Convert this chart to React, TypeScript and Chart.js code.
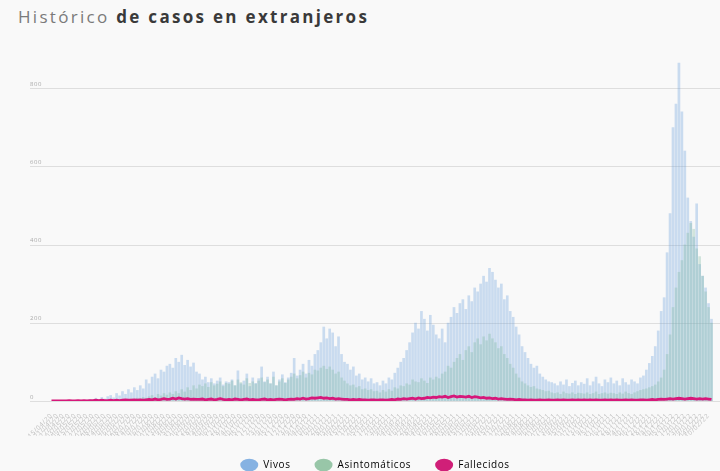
import React, { useEffect, useRef } from "react";
import { Chart, registerables } from "chart.js";

Chart.register(...registerables);

// Dates: one category every 3 days starting 15/04/2020
const START_DATE = "2020-04-15";
const STEP_DAYS = 3;

const vivos: number[] = [
  0, 0, 0, 0, 0, 1, 0, 2, 0, 1,
  2, 0, 3, 5, 2, 8, 4, 10, 6, 12,
  15, 9, 20, 14, 25, 18, 30, 22, 35, 28,
  40, 32, 55, 45, 62, 70, 58, 80, 75, 90,
  95, 85, 110, 100, 118, 92, 105, 88, 98, 75,
  70, 55, 62, 48, 58, 45, 52, 60, 42, 50,
  48, 55, 40, 78, 45, 52, 70, 38, 60, 46,
  58, 88, 50, 62, 45, 75, 40, 55, 68, 48,
  60, 72, 110, 65, 80, 95, 70, 105, 90, 120,
  130, 150, 190, 160, 185, 175, 140, 165, 120, 100,
  95, 80, 88, 65, 70, 55, 60, 50, 58, 45,
  48, 40, 52, 45, 60, 55, 72, 85, 100, 110,
  130, 150, 175, 200, 185, 230, 210, 180, 220, 195,
  170, 160, 185, 150, 200, 215, 240, 225, 250, 260,
  235, 270, 255, 290, 280, 300, 320, 305, 340, 330,
  310, 290, 300, 260, 270, 230, 215, 190, 170, 140,
  125, 110, 95, 85, 90, 70, 62, 55, 50, 48,
  45, 40, 50, 42, 55, 38, 46, 52, 40, 48,
  44, 58, 40, 50, 62, 45, 38, 55, 48, 60,
  45, 52, 40, 58, 48, 42, 55, 50, 45, 60,
  65, 80, 97, 115, 140, 180, 230, 265, 380, 480,
  700, 760, 865, 740, 640, 520, 460, 420, 505, 350,
  320, 290, 250, 210,
];

const asintomaticos: number[] = [
  0, 0, 0, 0, 0, 0, 0, 0, 0, 0,
  0, 0, 0, 1, 0, 2, 0, 1, 2, 0,
  2, 3, 1, 4, 2, 5, 3, 6, 4, 8,
  6, 10, 8, 12, 15, 10, 18, 14, 20, 16,
  22, 18, 25, 20, 30, 24, 35, 28, 40, 32,
  42, 38, 45, 36, 48, 40, 44, 50, 38, 46,
  44, 52, 40, 55, 48, 42, 58, 46, 50, 44,
  52, 60, 48, 55, 45, 62, 40, 50, 58, 46,
  55, 62, 70, 58, 66, 75, 60, 72, 68, 80,
  78, 85, 90, 82, 88, 80, 70, 75, 60, 52,
  45, 40, 42, 35, 38, 30, 32, 28, 30, 25,
  26, 22, 28, 24, 30, 26, 35, 32, 40, 38,
  45, 42, 55, 50, 48, 58, 52, 46, 60, 55,
  62, 58, 70, 75, 90, 85, 100, 110, 120, 105,
  130, 140, 125, 150, 160, 145, 165, 155, 172, 160,
  150, 135, 140, 120, 110, 95, 85, 70, 60, 50,
  45, 40, 36, 38, 32, 30, 28, 25, 26, 22,
  20, 22, 18, 24, 20, 19, 22, 18, 21, 20,
  19, 22, 18, 20, 24, 18, 20, 22, 19, 21,
  20, 18, 22, 19, 24, 20, 18, 22, 25, 28,
  30, 32, 35, 38, 42, 50, 60, 80, 120, 170,
  240, 290, 330, 360, 400, 430, 455, 440, 390, 370,
  320, 280, 240, 200,
];

const fallecidos: number[] = [
  0, 0, 0, 0, 0, 0, 1, 0, 0, 1,
  0, 1, 0, 1, 1, 2, 1, 2, 1, 1,
  2, 1, 2, 1, 2, 3, 2, 2, 3, 2,
  3, 2, 3, 4, 3, 5, 3, 4, 6, 4,
  5, 7, 5, 8, 6, 5, 6, 4, 5, 4,
  4, 5, 3, 4, 5, 3, 4, 6, 4, 3,
  4, 3, 5, 4, 3, 4, 5, 3, 4, 3,
  3, 4, 5, 3, 4, 3, 4, 5, 4, 3,
  4, 5, 4, 6, 5, 7, 5, 6, 8, 7,
  8, 9, 7, 8, 6, 7, 5, 6, 5, 4,
  4, 3, 4, 3, 4, 3, 3, 2, 3, 3,
  2, 3, 3, 2, 3, 4, 3, 5, 4, 6,
  5, 6, 7, 5, 8, 6, 7, 9, 8, 10,
  9, 11, 10, 12, 9, 11, 13, 10, 12, 11,
  10, 12, 9, 11, 10, 8, 9, 7, 8, 6,
  7, 5, 6, 5, 4, 5, 4, 3, 4, 3,
  3, 2, 3, 2, 2, 3, 2, 2, 3, 2,
  2, 3, 2, 3, 2, 2, 3, 2, 3, 2,
  3, 2, 3, 2, 3, 2, 2, 3, 2, 3,
  2, 3, 2, 2, 3, 2, 3, 2, 2, 3,
  3, 2, 3, 4, 3, 4, 5, 4, 5, 6,
  5, 6, 7, 6, 5, 6, 7, 6, 5, 6,
  5, 6, 5, 4,
];

const yTickValues: number[] = [0, 200, 400, 600, 800];

const pad = (n: number) => (n < 10 ? "0" + n : "" + n);
const labels: string[] = vivos.map((_, i) => {
  const d = new Date(START_DATE + "T00:00:00Z");
  d.setUTCDate(d.getUTCDate() + i * STEP_DAYS);
  return `${pad(d.getUTCDate())}/${pad(d.getUTCMonth() + 1)}/${String(d.getUTCFullYear()).slice(2)}`;
});

const GRID_LEFT = 30;
const CANVAS_H = 480;
const LEGEND_PAD = 24;

const spacingPlugin = {
  id: "spacing",
  beforeUpdate(chart: any) {
    chart.ctx.letterSpacing = "0.6px";
  },
  beforeDraw(chart: any) {
    chart.ctx.letterSpacing = "0.6px";
  },
};

const gridPlugin = {
  id: "customGrid",
  beforeDatasetsDraw(chart: any) {
    const y = chart.scales.y;
    const ctx = chart.ctx;
    ctx.save();
    ctx.strokeStyle = "#dedede";
    ctx.lineWidth = 1;
    y.ticks.forEach((t: any) => {
      const py = Math.round(y.getPixelForValue(t.value)) + 0.5;
      ctx.beginPath();
      ctx.moveTo(GRID_LEFT, py);
      ctx.lineTo(chart.width, py);
      ctx.stroke();
    });
    ctx.restore();
  },
};

const legendColors = ["#86b2e2", "#98c6a8", "#d01f78"];

export default function App() {
  const ref = useRef<HTMLCanvasElement | null>(null);
  useEffect(() => {
    if (!ref.current) return;
    const chart = new Chart(ref.current, {
      type: "bar",
      data: {
        labels,
        datasets: [
          {
            type: "bar",
            label: "Vivos",
            data: vivos,
            backgroundColor: "rgba(111,163,221,0.35)",
            borderWidth: 0,
            barPercentage: 0.9,
            categoryPercentage: 1,
            grouped: false,
            order: 3,
          } as any,
          {
            type: "bar",
            label: "Asintomáticos",
            data: asintomaticos,
            backgroundColor: "rgba(125,185,160,0.32)",
            borderWidth: 0,
            barPercentage: 0.9,
            categoryPercentage: 1,
            grouped: false,
            order: 2,
          } as any,
          {
            type: "line",
            label: "Fallecidos",
            data: fallecidos,
            borderColor: "#d6177a",
            backgroundColor: "#d6177a",
            borderWidth: 2.8,
            pointRadius: 0,
            tension: 0,
            order: 1,
          } as any,
        ],
      },
      options: {
        responsive: false,
        animation: false,
        devicePixelRatio: 1,
        layout: { padding: { left: GRID_LEFT, right: 0, top: 49, bottom: 0 } },
        plugins: {
          title: { display: false },
          tooltip: { enabled: false },
          legend: {
            position: "bottom",
            labels: {
              usePointStyle: true,
              pointStyle: "circle",
              pointStyleWidth: 18,
              boxHeight: 9,
              padding: LEGEND_PAD,
              color: "#9a9a9a",
              font: { family: "'Open Sans', sans-serif", size: 10 },
              generateLabels: (c: any) =>
                c.data.datasets.map((ds: any, i: number) => ({
                  text: ds.label,
                  fillStyle: legendColors[i],
                  strokeStyle: legendColors[i],
                  lineWidth: 0,
                  pointStyle: "circle",
                  hidden: false,
                  datasetIndex: i,
                })),
            },
          },
        },
        scales: {
          x: {
            grid: { display: false },
            border: { display: false },
            afterFit: (s: any) => {
              s.height = CANVAS_H - (10 + LEGEND_PAD + 10) - 401;
            },
            ticks: {
              autoSkip: false,
              minRotation: 45,
              maxRotation: 45,
              color: "#c2c2c2",
              font: { family: "'Open Sans', sans-serif", size: 6.5 },
              padding: 3,
              callback: function (this: any, _v: any, i: number) {
                return i % 2 === 0 ? labels[i] : "";
              },
            },
          },
          y: {
            min: 0,
            max: 900,
            border: { display: false },
            grid: { display: false },
            afterBuildTicks: (s: any) => {
              s.ticks = yTickValues.map((v) => ({ value: v }));
            },
            afterFit: (s: any) => {
              s.width = 20;
            },
            ticks: {
              crossAlign: "far",
              labelOffset: -4,
              color: "#aaaaaa",
              font: { family: "'Open Sans', sans-serif", size: 6 },
            },
          },
        },
      },
      plugins: [spacingPlugin, gridPlugin],
    });
    return () => chart.destroy();
  }, []);

  return (
    <div
      style={{
        position: "fixed",
        left: 0,
        top: 0,
        width: 720,
        height: 471,
        background: "#f9f9f9",
        overflow: "hidden",
      }}
    >
      <div
        style={{
          position: "absolute",
          left: 18,
          top: 7,
          fontFamily: "'Open Sans', sans-serif",
          fontSize: 17,
          lineHeight: "20px",
          letterSpacing: "2.3px",
          color: "#7a7a7a",
          whiteSpace: "nowrap",
        }}
      >
        <span style={{ fontWeight: 400 }}>Histórico </span>
        <span style={{ fontWeight: 700, color: "#3a3a3a" }}>de casos en extranjeros</span>
      </div>
      <canvas
        ref={ref}
        width={720}
        height={CANVAS_H}
        style={{ position: "absolute", left: 0, top: 0, width: 720, height: CANVAS_H }}
      />
    </div>
  );
}
